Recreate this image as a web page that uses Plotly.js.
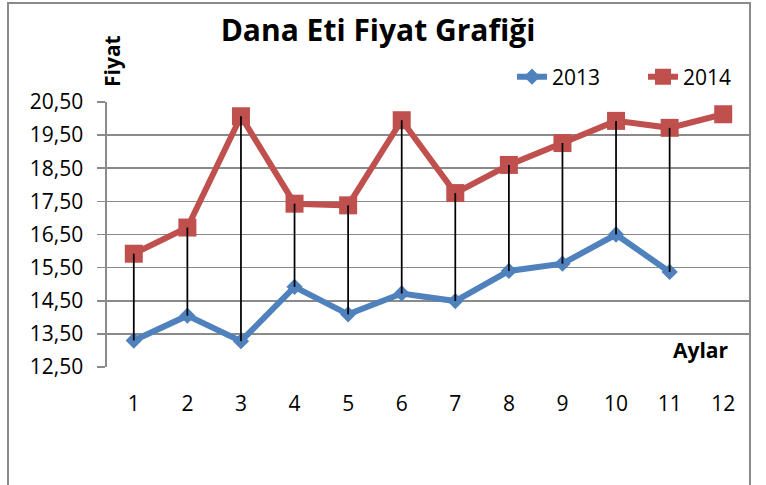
<!DOCTYPE html>
<html>
<head>
<meta charset="utf-8">
<script src="https://cdn.plot.ly/plotly-3.0.1.min.js"></script>
<style>
  html, body { margin: 0; padding: 0; background: #fff; overflow: hidden; }
  #wrap { position: relative; width: 766px; height: 485px; }
  #chart { width: 766px; height: 485px; }
  #frame { position: absolute; left: 7px; top: 2px; width: 744px; height: 620px;
           border: 2px solid #8a8a8a; box-sizing: border-box; pointer-events: none; }
</style>
</head>
<body>
<div id="wrap">
  <div id="chart"></div>
  <div id="frame"></div>
</div>
<script>
// ---- data ----
const months = [1, 2, 3, 4, 5, 6, 7, 8, 9, 10, 11, 12];
const tickLabels = ['1', '2', '3', '4', '5', '6', '7', '8', '9', '10', '11', '12'];
const price2013 = [13.30, 14.05, 13.28, 14.92, 14.09, 14.72, 14.49, 15.40, 15.62, 16.50, 15.37, null];
const price2014 = [15.92, 16.71, 20.07, 17.43, 17.38, 19.95, 17.75, 18.60, 19.26, 19.93, 19.72, 20.13];
const yTicks = [12.5, 13.5, 14.5, 15.5, 16.5, 17.5, 18.5, 19.5, 20.5];
const seriesNames = ['2013', '2014'];
const titleText = 'Dana Eti Fiyat Grafiği';
const yTitle = 'Fiyat';
const xTitle = 'Aylar';

// high-low connector lines built from the two series
const hlX = [], hlY = [];
months.forEach((m, i) => {
  if (price2013[i] != null && price2014[i] != null) {
    hlX.push(m, m, null);
    hlY.push(price2013[i], price2014[i], null);
  }
});

const FONT = 'Open Sans, Noto Sans, sans-serif';

const traces = [
  {
    x: months, y: price2013, name: seriesNames[0], type: 'scatter', mode: 'lines+markers',
    line: { color: '#4F81BD', width: 6 },
    marker: { symbol: 'diamond', size: 12.5, color: '#4F81BD' },
    connectgaps: false, hoverinfo: 'x+y'
  },
  {
    x: months, y: price2014, name: seriesNames[1], type: 'scatter', mode: 'lines+markers',
    line: { color: '#C0504D', width: 6 },
    marker: { symbol: 'square', size: 18, color: '#C0504D' },
    hoverinfo: 'x+y'
  },
  {
    x: hlX, y: hlY, type: 'scatter', mode: 'lines', showlegend: false,
    line: { color: '#000000', width: 1.75 }, hoverinfo: 'skip'
  }
];

const layout = {
  width: 766, height: 485,
  margin: { l: 107, r: 16, t: 102, b: 118, autoexpand: false },
  paper_bgcolor: '#ffffff', plot_bgcolor: '#ffffff',
  separators: ',.',
  font: { family: FONT, size: 21, color: '#000000' },
  title: {
    text: '<b>' + titleText + '</b>',
    font: { family: FONT, size: 30, color: '#000000' },
    x: 378 / 766, xanchor: 'center', xref: 'container',
    y: 1 - 30 / 485, yanchor: 'middle', yref: 'container'
  },
  xaxis: {
    range: [0.5, 12.5], tickmode: 'array', tickvals: months, ticktext: tickLabels,
    showgrid: false, zeroline: false, showline: false, ticks: '',
    ticklabelstandoff: 22,
    tickfont: { family: FONT, size: 21, color: '#000000' }
  },
  yaxis: {
    range: [12.5, 20.5], tickmode: 'array', tickvals: yTicks, tickformat: '.2f',
    showgrid: true, gridcolor: '#8a8a8a', gridwidth: 1.6, zeroline: false,
    showline: true, linecolor: '#8a8a8a', linewidth: 1.6,
    ticks: 'outside', ticklen: 8, tickcolor: '#8a8a8a', tickwidth: 1.6,
    ticklabelstandoff: 10,
    tickfont: { family: FONT, size: 21, color: '#000000' }
  },
  legend: {
    orientation: 'h', x: (512 - 107) / 643, xanchor: 'left', xref: 'paper',
    y: (367 - 77) / 265, yanchor: 'middle', yref: 'paper',
    font: { family: FONT, size: 21, color: '#000000' },
    bgcolor: 'rgba(0,0,0,0)', entrywidth: 86
  },
  annotations: [
    {
      text: '<b>' + yTitle + '</b>', textangle: -90, showarrow: false,
      xref: 'paper', yref: 'paper', x: (112 - 107) / 643, y: (367 - 61) / 265,
      xanchor: 'center', yanchor: 'middle',
      font: { family: FONT, size: 21, color: '#000000' }
    },
    {
      text: '<b>' + xTitle + '</b>', showarrow: false,
      xref: 'paper', yref: 'paper', x: (731 - 107) / 643, y: (367 - 350) / 265,
      xanchor: 'right', yanchor: 'middle',
      font: { family: FONT, size: 21, color: '#000000' }
    }
  ],
  showlegend: true
};

Plotly.newPlot('chart', traces, layout, { displayModeBar: false, staticPlot: true });
</script>
</body>
</html>
